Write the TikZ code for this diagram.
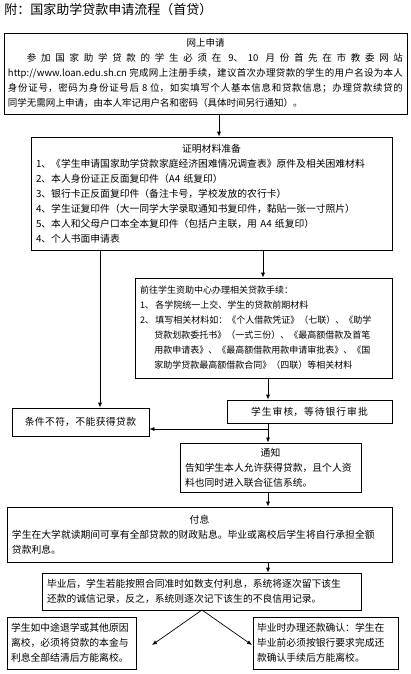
\documentclass[tikz,border=0pt]{standalone}
\usepackage{fontspec}
\setmainfont{Noto Sans CJK SC}
\XeTeXlinebreaklocale "zh"
\XeTeXlinebreakskip = 0pt plus 1pt
\usetikzlibrary{arrows.meta}

\begin{document}
\begin{tikzpicture}[x=1pt, y=-1pt, >={Latex[length=5pt, width=4pt]}, line width=0.7pt]
	\tikzstyle{box} = [draw=black, rectangle, inner sep=5pt, align=left, font=\fontsize{9.8}{15}\selectfont]
	\tikzstyle{heading} = [draw=none, inner sep=0pt, anchor=west, font=\fontsize{13}{15}\selectfont]

	\useasboundingbox (0, 0) rectangle (411, 674);

	\node[heading]									at (4, 10)			(head)		{附：国家助学贷款申请流程（首贷）};
	\node[box, text width=395pt, minimum height=81pt, inner xsep=4pt, align=justify, font=\fontsize{9.5}{15}\selectfont]	at (205.5, 73.5)	(online)	{\makebox[\hsize]{网上申请}\par\noindent\hspace*{2em}参加国家助学贷款的学生必须在 9、10 月份首先在市教委网站\linebreak http://www.loan.edu.sh.cn 完成网上注册手续，建议首次办理贷款的学生的用户名设为本人\linebreak 身份证号，密码为身份证号后 8 位，如实填写个人基本信息和贷款信息；办理贷款续贷的\linebreak 同学无需网上申请，由本人牢记用户名和密码（具体时间另行通知）。};
	\node[box, text width=351pt, minimum height=113pt]				at (211.5, 193.5)	(papers)	{\makebox[\hsize]{证明材料准备}\\
		1、《学生申请国家助学贷款家庭经济困难情况调查表》原件及相关困难材料\\
		2、本人身份证正反面复印件（A4 纸复印）\\
		3、银行卡正反面复印件（备注卡号，学校发放的农行卡）\\
		4、学生证复印件（大一同学大学录取通知书复印件，黏贴一张一寸照片）\\
		5、本人和父母户口本全本复印件（包括户主联，用 A4 纸复印）\\
		4、个人书面申请表};
	\node[box, text width=247pt, minimum height=100pt, font=\fontsize{9}{15}\selectfont]	at (263.5, 328)	(centre)	{前往学生资助中心办理相关贷款手续：\\
		1、\,各学院统一上交、学生的贷款前期材料\\
		2、\,填写相关材料如：《个人借款凭证》（七联）、《助学\\
		\hspace*{1.6em}贷款划款委托书》（一式三份）、《最高额借款及首笔\\
		\hspace*{1.6em}用款申请表》、《最高额借款用款申请审批表》、《国\\
		\hspace*{1.6em}家助学贷款最高额借款合同》（四联）等相关材料};
	\node[box, text width=127pt, minimum height=28pt, align=center]	at (80.5, 422)		(fail)		{条件不符，不能获得贷款};
	\node[box, text width=155pt, minimum height=23pt, align=center]	at (309.5, 411.5)	(check)		{学生审核，等待银行审批};
	\node[box, text width=171pt, minimum height=49pt]				at (270.5, 467.5)	(notice)	{\makebox[\hsize]{通知}\\
		告知学生本人允许获得贷款，且个人资\\
		料也同时进入联合征信系统。};
	\node[box, text width=375pt, minimum height=55pt]				at (199.5, 534.5)	(interest)	{\makebox[\hsize]{付息}\\
		学生在大学就读期间可享有全部贷款的财政贴息。毕业或离校后学生将自行承担全额\\
		贷款利息。};
	\node[box, text width=309pt, minimum height=37pt]				at (201.5, 591.5)	(grad)		{毕业后，学生若能按照合同准时如数支付利息，系统将逐次留下该生\\
		还款的诚信记录，反之，系统则逐次记下该生的不良信用记录。};
	\node[box, text width=121pt, minimum height=52pt, inner sep=4pt]	at (71.5, 643)		(quit)		{学生如中途退学或其他原因\\
		离校，必须将贷款的本金与\\
		利息全部结清后方能离校。};
	\node[box, text width=137pt, minimum height=52pt, inner sep=4pt]	at (325.5, 643)		(repay)		{毕业时办理还款确认：学生在\\
		毕业前必须按银行要求完成还\\
		款确认手续后方能离校。};

	\coordinate (turn)		at (268, 429);
	\coordinate (fork)		at (202, 610);
	\coordinate (quittip)	at (152, 645);
	\coordinate (repaytip)	at (252, 645);

	\path[->]
	(online.south -| 219,0)		edge	(papers.north -| 219,0)
	(papers.south -| 100,0)		edge	(fail.north -| 100,0)
	(papers.south -| 263,0)		edge	(centre.north -| 263,0)
	(centre.south -| 268,0)		edge	(check.north -| 268,0)
	(check.south -| 268,0)		edge	(notice.north -| 268,0)
	(turn)						edge	(fail.east |- turn)
	(notice.south -| 268,0)		edge	(interest.north -| 268,0)
	(interest.south -| 268,0)	edge	(grad.north -| 268,0)
	(fork)						edge	(quittip)
	(fork)						edge	(repaytip);
\end{tikzpicture}
\end{document}
